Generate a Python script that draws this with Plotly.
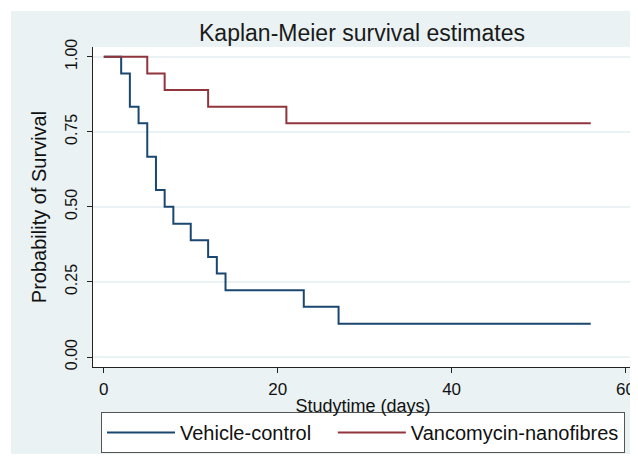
import plotly.graph_objects as go

# Data
vehicle_time = [0, 2, 3, 4, 5, 6, 7, 8, 10, 12, 13, 14, 23, 27, 56]
vehicle_surv = [1.000, 0.944, 0.833, 0.778, 0.667, 0.556, 0.500, 0.444,
                0.389, 0.333, 0.278, 0.222, 0.167, 0.111, 0.111]
vanco_time = [0, 5, 7, 12, 21, 56]
vanco_surv = [1.000, 0.944, 0.889, 0.833, 0.778, 0.778]

x_ticks = [0, 20, 40, 60]
y_ticks = [0, 0.25, 0.5, 0.75, 1.0]
y_tick_labels = ["0.00", "0.25", "0.50", "0.75", "1.00"]
series_names = ["Vehicle-control", "Vancomycin-nanofibres"]

BLUE = "#1a476f"
RED = "#90353b"
BG = "#eaf2f3"
FONT = "Liberation Sans, Arial, sans-serif"

# page body adds an 8px margin; keep the page from overflowing the window
OFF = 8
W, H = 638 - OFF, 462 - 2 * OFF
ML, MR, MT = 85, 5, 39
MB = H - (367 - OFF)
PW, PH = W - ML - MR, H - MT - MB


def px_x(p):  # reference pixel -> paper x
    return (p - OFF - ML) / PW


def px_y(p):  # reference pixel -> paper y
    return 1 - (p - OFF - MT) / PH


fig = go.Figure()
fig.add_trace(go.Scatter(x=vehicle_time, y=vehicle_surv, mode="lines",
                         line=dict(color=BLUE, width=2, shape="hv"),
                         name=series_names[0] + "\u00a0\u00a0\u00a0"))
fig.add_trace(go.Scatter(x=vanco_time, y=vanco_surv, mode="lines",
                         line=dict(color=RED, width=2, shape="hv"),
                         name=series_names[1]))

# white outer border strips (top and left), completing the 11px white frame
fig.add_shape(type="rect", xref="paper", yref="paper", layer="below",
              x0=px_x(0), x1=px_x(700), y0=px_y(0), y1=px_y(11),
              fillcolor="white", line_width=0)
fig.add_shape(type="rect", xref="paper", yref="paper", layer="below",
              x0=px_x(0), x1=px_x(11), y0=px_y(0), y1=px_y(500),
              fillcolor="white", line_width=0)

fig.update_layout(
    width=W, height=H,
    margin=dict(l=ML, r=MR, t=MT, b=MB, autoexpand=False),
    paper_bgcolor=BG, plot_bgcolor="white",
    font=dict(family=FONT, color="#111111", size=16),
    title=dict(text="Kaplan-Meier survival estimates", xref="paper", x=px_x(362),
               xanchor="center", y=1 - (33 - OFF) / H, yanchor="middle",
               font=dict(size=23, color="#1a1a1a")),
    showlegend=True,
    legend=dict(orientation="h", x=px_x(363), xanchor="center",
                y=px_y(453), yanchor="bottom",
                bgcolor="white", bordercolor="#555555", borderwidth=1,
                font=dict(size=20, color="#111111"), itemwidth=68,
                traceorder="normal"),
)
fig.update_xaxes(range=[-1.24, 60.86], tickvals=x_ticks, showgrid=False, zeroline=False,
                 showline=True, linecolor="#222222", linewidth=1,
                 ticks="outside", ticklen=5, tickcolor="#222222",
                 tickfont=dict(size=17), ticklabelstandoff=2,
                 title=dict(text="Studytime (days)", font=dict(size=18), standoff=0))
fig.update_yaxes(range=[-0.0333, 1.0323], tickvals=y_ticks, ticktext=y_tick_labels,
                 showgrid=True, gridcolor=BG, gridwidth=1.5, zeroline=False,
                 showline=True, linecolor="#222222", linewidth=1,
                 ticks="outside", ticklen=5, tickcolor="#222222", tickangle=-90,
                 tickfont=dict(size=16), ticklabelstandoff=4,
                 title=dict(text="Probability of Survival", font=dict(size=20), standoff=10))

fig.write_html("out.html")
